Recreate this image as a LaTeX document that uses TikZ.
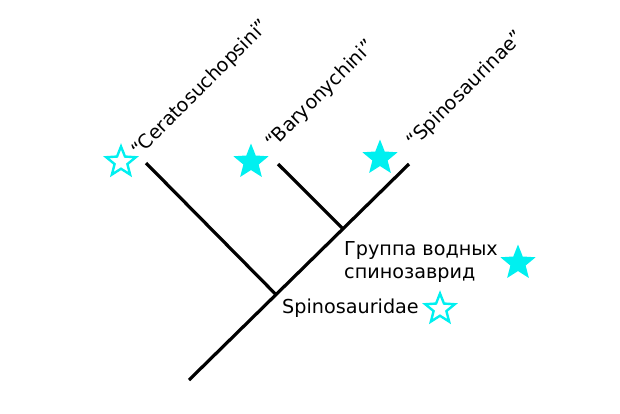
\documentclass[tikz,border=0pt]{standalone}
\usepackage{fontspec}
\setmainfont{DejaVu Sans}
\usetikzlibrary{shapes.geometric}
\definecolor{starcyan}{RGB}{0,240,240}
\begin{document}
\begin{tikzpicture}[x=1bp,y=-1bp,
  branch/.style={line width=3.2bp,black},
  lbl/.style={inner sep=0pt,font=\fontsize{19.2bp}{23bp}\selectfont},
  rlbl/.style={lbl,rotate=45,anchor=base west},
  starbase/.style={star,star points=5,star point ratio=2.3,minimum size=37bp,inner sep=0pt},
  fullstar/.style={starbase,fill=starcyan,draw=none},
  openstar/.style={starbase,draw=starcyan,line width=2.4bp,fill=white,minimum size=31bp}]
\useasboundingbox (0,0) rectangle (620,413);
% tree
\coordinate (root) at (189,380);
\coordinate (tipS) at (409,164);
\coordinate (nA) at (276,294.6);
\coordinate (nB) at (343,228.8);
\coordinate (tipC) at (146,163);
\coordinate (tipB) at (278,164);
\draw[branch] (root) -- (tipS);
\draw[branch] (tipC) -- (nA);
\draw[branch] (tipB) -- (nB);
% labels
\node[rlbl] (lC) at (139,158) {“Ceratosuchopsini”};
\node[rlbl] (lB) at (273,150) {“Baryonychini”};
\node[rlbl] (lS) at (414,149) {“Spinosaurinae”};
\node[lbl,anchor=base west,align=left] (lW) at (344,278) {Группа водных\\спинозаврид};
\node[lbl,anchor=base west] (lF) at (282,313) {Spinosauridae};
% stars
\node[openstar] (s1) at (121,162) {};
\node[fullstar] (s2) at (251,162) {};
\node[fullstar] (s3) at (380,158) {};
\node[fullstar] (s4) at (518,263) {};
\node[openstar] (s5) at (440,309) {};
\end{tikzpicture}
\end{document}
